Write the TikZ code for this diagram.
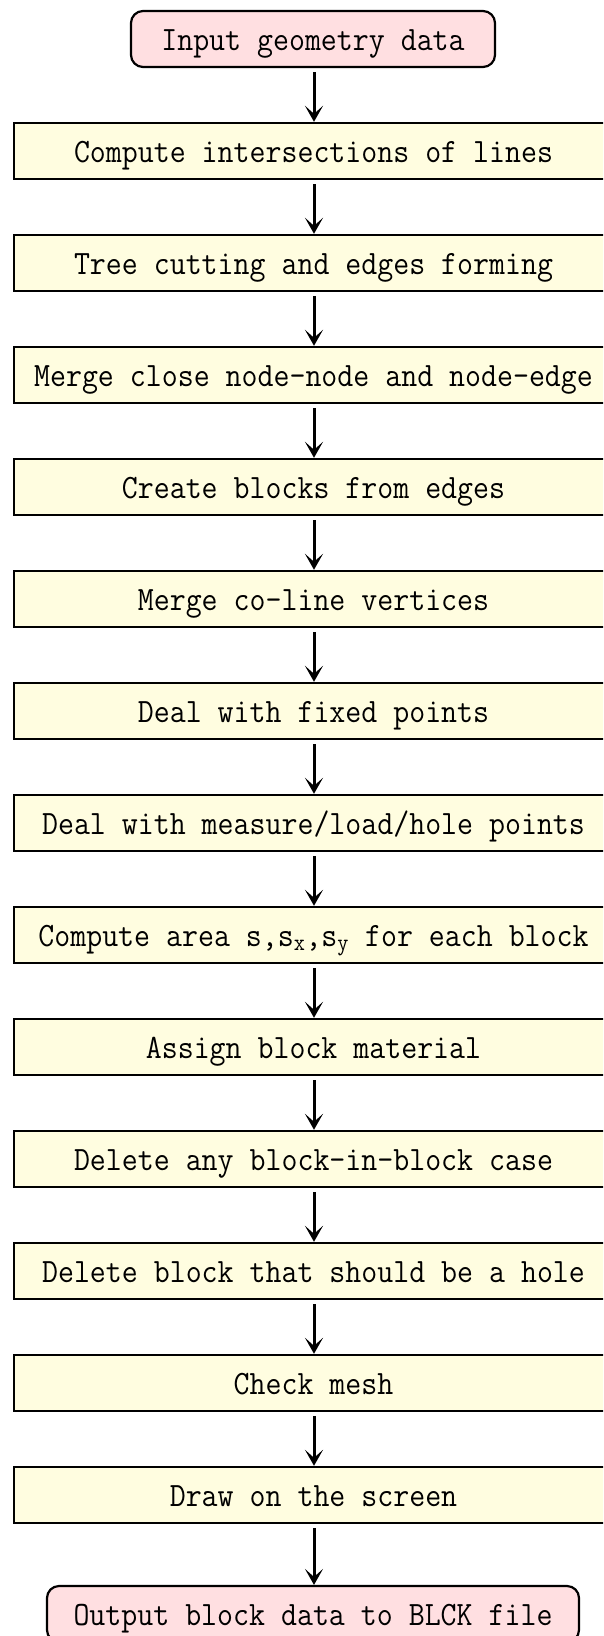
\documentclass[tikz,border=0pt]{standalone}
\usepackage{fontspec}
\usepackage{graphicx}
\usetikzlibrary{arrows.meta}
\definecolor{termfill}{HTML}{FFDFE1}
\definecolor{stepfill}{HTML}{FFFDE0}
% step labels: monospaced, a little taller than the font's own proportions,
% baseline set a fixed distance below the box centre
\newcommand{\steptext}[1]{\raisebox{-11pt}[0pt][0pt]{\scalebox{1}[1.1]{#1}}}
\tikzset{
  terminal/.style={draw=black, line width=2.2pt, fill=termfill, rounded corners=12pt,
    minimum height=56pt, inner sep=0pt, font=\fontsize{31}{36}\ttfamily},
  stepbox/.style={draw=black, line width=2.4pt, fill=stepfill,
    minimum width=599pt, minimum height=56pt, inner sep=0pt, font=\fontsize{31}{36}\ttfamily},
  flow/.style={line width=3pt, shorten <=4pt,
    -{Stealth[length=16pt,width=18pt,inset=8pt]}}
}
\begin{document}
\begin{tikzpicture}[x=1pt,y=-1pt]
  \useasboundingbox (0,0) rectangle (603,1636);
  \clip (0,0) rectangle (603,1636);
  \fill[white] (0,0) rectangle (603,1636);

  \node[terminal, minimum width=364pt] (start) at (313,39) {\steptext{Input geometry data}};

  \node[stepbox] (s1)  at (313.5,151)  {\steptext{Compute intersections of lines}};
  \node[stepbox] (s2)  at (313.5,263)  {\steptext{Tree cutting and edges forming}};
  \node[stepbox] (s3)  at (313.5,375)  {\steptext{Merge close node-node and node-edge}};
  \node[stepbox] (s4)  at (313.5,487)  {\steptext{Create blocks from edges}};
  \node[stepbox] (s5)  at (313.5,599)  {\steptext{Merge co-line vertices}};
  \node[stepbox] (s6)  at (313.5,711)  {\steptext{Deal with fixed points}};
  \node[stepbox] (s7)  at (313.5,823)  {\steptext{Deal with measure/load/hole points}};
  \node[stepbox] (s8)  at (313.5,935)  {\steptext{Compute area s,s\textsubscript{x},s\textsubscript{y} for each block}};
  \node[stepbox] (s9)  at (313.5,1047) {\steptext{Assign block material}};
  \node[stepbox] (s10) at (313.5,1159) {\steptext{Delete any block-in-block case}};
  \node[stepbox] (s11) at (313.5,1271) {\steptext{Delete block that should be a hole}};
  \node[stepbox] (s12) at (313.5,1383) {\steptext{Check mesh}};
  \node[stepbox] (s13) at (313.5,1495) {\steptext{Draw on the screen}};

  \node[terminal, minimum width=532pt] (stop) at (313,1614) {\steptext{Output block data to BLCK file}};

  \foreach \a/\b in {start/s1, s1/s2, s2/s3, s3/s4, s4/s5, s5/s6, s6/s7,
                     s7/s8, s8/s9, s9/s10, s10/s11, s11/s12, s12/s13, s13/stop}
    \draw[flow] (\a.south -| 314,0) -- (\b.north -| 314,0);
\end{tikzpicture}
\end{document}
